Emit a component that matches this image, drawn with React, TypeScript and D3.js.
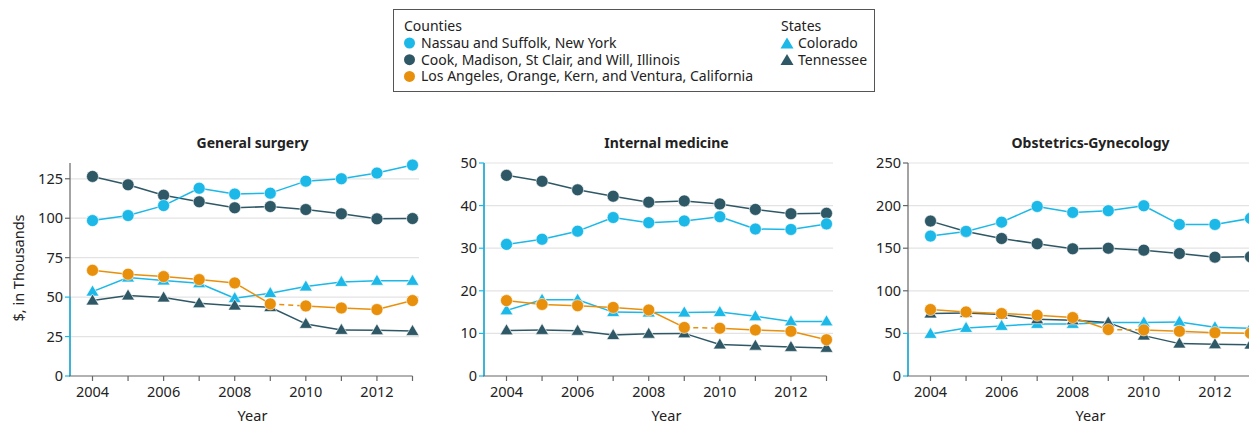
import React from 'react';
import * as d3 from 'd3';

// years on the x axis
const years = [2004, 2005, 2006, 2007, 2008, 2009, 2010, 2011, 2012, 2013];
const yearLabels = [2004, 2006, 2008, 2010, 2012];

// General surgery
const gsNassau = [98.5, 101.7, 108, 119, 115.3, 115.9, 123.5, 125, 128.6, 133.7];
const gsCook = [126.5, 121.2, 114.6, 110.4, 106.6, 107.4, 105.5, 102.8, 99.6, 99.8];
const gsLA = [67, 64.5, 63, 61.1, 59, 45.7, 44.4, 43.1, 42.1, 47.8];
const gsColorado = [53.5, 62.4, 60.5, 58.8, 49.3, 52.5, 56.7, 59.6, 60.3, 60.3];
const gsTennessee = [47.8, 51, 49.7, 46.1, 44.6, 43.6, 33, 29.2, 29, 28.5];

// Internal medicine
const imNassau = [30.9, 32.1, 34.0, 37.2, 36.0, 36.4, 37.4, 34.5, 34.4, 35.7];
const imCook = [47.1, 45.7, 43.7, 42.2, 40.8, 41.1, 40.4, 39.1, 38.1, 38.2];
const imLA = [17.7, 16.8, 16.5, 16.1, 15.5, 11.4, 11.2, 10.8, 10.5, 8.5];
const imColorado = [15.4, 17.9, 17.9, 15.0, 14.9, 14.9, 15.0, 14.0, 12.8, 12.8];
const imTennessee = [10.7, 10.8, 10.6, 9.6, 9.9, 10.0, 7.4, 7.1, 6.8, 6.6];

// Obstetrics-Gynecology
const obNassau = [164.2, 169.7, 180.6, 199, 192, 194, 199.8, 177.9, 177.9, 185];
const obCook = [181.8, 169.7, 161.4, 155.2, 149.3, 150, 147.7, 143.8, 139.5, 139.9];
const obLA = [78, 75.2, 73.3, 71.3, 68.6, 54.5, 54.1, 52.5, 50.9, 50.2];
const obColorado = [49.4, 56.4, 58.8, 61.1, 61.1, 62.7, 62.7, 63.5, 57.2, 56];
const obTennessee = [73.3, 74, 72.1, 66.6, 65.4, 62.7, 47.4, 38, 37.2, 36.8];

const gsTicks = [0, 25, 50, 75, 100, 125];
const imTicks = [0, 10, 20, 30, 40, 50];
const obTicks = [0, 50, 100, 150, 200, 250];

const countyNames = [
  'Nassau and Suffolk, New York',
  'Cook, Madison, St Clair, and Will, Illinois',
  'Los Angeles, Orange, Kern, and Ventura, California',
];
const stateNames = ['Colorado', 'Tennessee'];

const LIGHT = '#1bb8e8';
const DARK = '#2f5866';
const ORANGE = '#e8900c';
const FONT = '"Noto Sans", sans-serif';

type Series = { key: string; values: number[]; color: string; shape: 'circle' | 'triangle'; gap?: boolean };

const panels = [
  {
    title: 'General surgery', left: 70, max: 135, ticks: gsTicks,
    series: [
      { key: 'co', values: gsColorado, color: LIGHT, shape: 'triangle' },
      { key: 'tn', values: gsTennessee, color: DARK, shape: 'triangle' },
      { key: 'cook', values: gsCook, color: DARK, shape: 'circle' },
      { key: 'ny', values: gsNassau, color: LIGHT, shape: 'circle' },
      { key: 'la', values: gsLA, color: ORANGE, shape: 'circle', gap: true },
    ] as Series[],
  },
  {
    title: 'Internal medicine', left: 484, max: 50, ticks: imTicks,
    series: [
      { key: 'co', values: imColorado, color: LIGHT, shape: 'triangle' },
      { key: 'tn', values: imTennessee, color: DARK, shape: 'triangle' },
      { key: 'cook', values: imCook, color: DARK, shape: 'circle' },
      { key: 'ny', values: imNassau, color: LIGHT, shape: 'circle' },
      { key: 'la', values: imLA, color: ORANGE, shape: 'circle', gap: true },
    ] as Series[],
  },
  {
    title: 'Obstetrics-Gynecology', left: 908, max: 250, ticks: obTicks,
    series: [
      { key: 'co', values: obColorado, color: LIGHT, shape: 'triangle' },
      { key: 'tn', values: obTennessee, color: DARK, shape: 'triangle' },
      { key: 'cook', values: obCook, color: DARK, shape: 'circle' },
      { key: 'ny', values: obNassau, color: LIGHT, shape: 'circle' },
      { key: 'la', values: obLA, color: ORANGE, shape: 'circle', gap: true },
    ] as Series[],
  },
];

const triPath = (cx: number, cy: number) => {
  const w = 6.5, h = 11;
  return `M${cx},${cy - h * 0.6}L${cx + w},${cy + h * 0.4}L${cx - w},${cy + h * 0.4}Z`;
};

const Panel = ({ p }: { p: typeof panels[0] }) => {
  const top = 163, bottom = 376;
  const x = d3.scaleLinear().domain([2004, 2013]).range([p.left + 22.5, p.left + 342.5]);
  const y = d3.scaleLinear().domain([0, p.max]).range([bottom, top]);
  const gridEnd = p.left + 349;
  const blueTop = y(Math.min(50, p.max));
  const mid = (x(2004) + x(2013)) / 2;

  return (
    <g>
      <text x={mid} y={148} textAnchor="middle" fontWeight="bold" fontSize={14} fill="#222">{p.title}</text>
      {p.ticks.filter(t => t > 0).map(t => (
        <line key={'g' + t} x1={p.left} x2={gridEnd} y1={y(t)} y2={y(t)} stroke="#e3e3e3" strokeWidth={1.2} />
      ))}
      {/* y axis */}
      <line x1={p.left} x2={p.left} y1={top} y2={bottom} stroke="#666" strokeWidth={1.2} />
      <line x1={p.left} x2={p.left} y1={blueTop} y2={bottom} stroke={LIGHT} strokeWidth={1.5} />
      {p.ticks.map(t => (
        <g key={'t' + t}>
          <line x1={p.left - 5} x2={p.left} y1={y(t)} y2={y(t)} stroke={t <= 50 ? LIGHT : '#666'} strokeWidth={1.2} />
          <text x={p.left - 7} y={y(t)} dy="0.35em" textAnchor="end" fontSize={14.5} fill="#222">{t}</text>
        </g>
      ))}
      {/* x axis */}
      <line x1={p.left - 1} x2={x(2013)} y1={bottom} y2={bottom} stroke="#666" strokeWidth={1.2} />
      {years.map(yr => (
        <line key={'x' + yr} x1={x(yr)} x2={x(yr)} y1={bottom} y2={bottom + 5} stroke="#666" strokeWidth={1.2} />
      ))}
      {yearLabels.map(yr => (
        <text key={'xl' + yr} x={x(yr)} y={397} textAnchor="middle" fontSize={14.5} fill="#222">{yr}</text>
      ))}
      <text x={mid} y={421} textAnchor="middle" fontSize={14.5} fill="#222">Year</text>
      {/* lines */}
      {p.series.map(s => (
        <g key={'l' + s.key}>
          {s.values.slice(1).map((v, i) => {
            const dashed = s.gap && years[i] === 2009;
            return (
              <line key={i} x1={x(years[i])} y1={y(s.values[i])} x2={x(years[i + 1])} y2={y(v)}
                stroke={s.color} strokeWidth={1.5} strokeDasharray={dashed ? '5,4' : undefined} />
            );
          })}
        </g>
      ))}
      {/* markers */}
      {p.series.map(s => (
        <g key={'m' + s.key}>
          {s.values.map((v, i) =>
            s.shape === 'circle'
              ? <circle key={i} cx={x(years[i])} cy={y(v)} r={6} fill={s.color} stroke="#fff" strokeWidth={0.6} />
              : <path key={i} d={triPath(x(years[i]), y(v))} fill={s.color} stroke="#fff" strokeWidth={0.6} />
          )}
        </g>
      ))}
    </g>
  );
};

const Legend = () => {
  const colors = [LIGHT, DARK, ORANGE];
  const stateColors = [LIGHT, DARK];
  return (
    <g fontSize={14} fill="#222">
      <rect x={393.5} y={9.5} width={481} height={82} fill="#fff" stroke="#555" strokeWidth={1} />
      <text x={404} y={31}>Counties</text>
      {countyNames.map((n, i) => (
        <g key={n}>
          <circle cx={409.5} cy={43 + i * 16.7} r={5.5} fill={colors[i]} />
          <text x={421} y={48 + i * 16.7}>{n}</text>
        </g>
      ))}
      <text x={781} y={31}>States</text>
      {stateNames.map((n, i) => (
        <g key={n}>
          <path d={triPath(787, 44 + i * 16.7)} fill={stateColors[i]} />
          <text x={798} y={48 + i * 16.7}>{n}</text>
        </g>
      ))}
    </g>
  );
};

export default function App() {
  return (
    <svg width={1249} height={427} style={{ position: 'absolute', left: 0, top: 0, background: '#fff' }}
      fontFamily={FONT}>
      <Legend />
      {panels.map(p => <Panel key={p.title} p={p} />)}
      <text transform="translate(24,268) rotate(-90)" textAnchor="middle" fontSize={14.5} fill="#222">$, in Thousands</text>
    </svg>
  );
}
